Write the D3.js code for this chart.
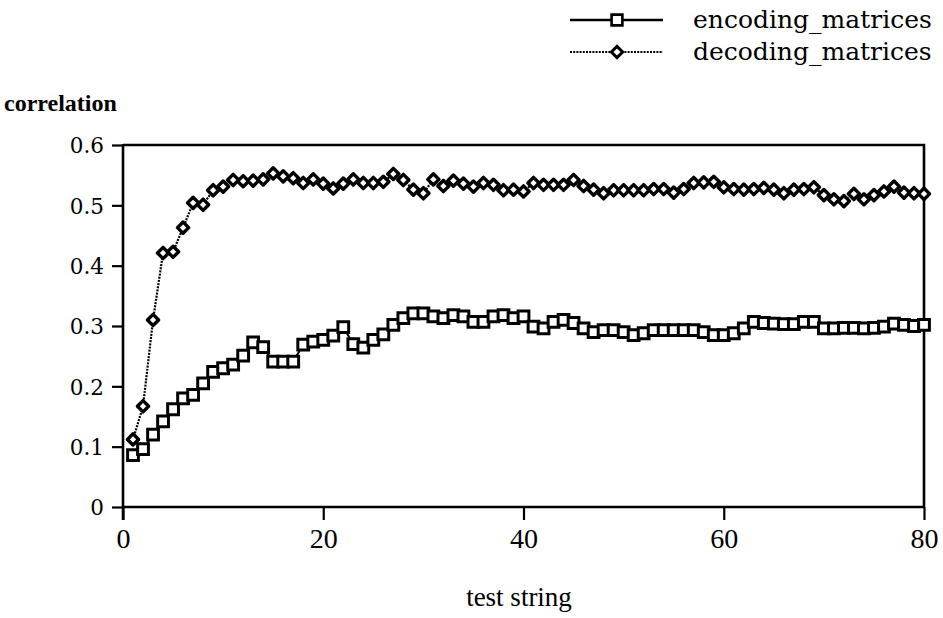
<!DOCTYPE html>
<html>
<head>
<meta charset="utf-8">
<script src="https://cdn.jsdelivr.net/npm/d3@7"></script>
<style>
  html, body { margin: 0; padding: 0; background: #fff; }
  svg { display: block; }
</style>
</head>
<body>
<svg id="chart" width="943" height="618"></svg>
<script>
// Test string index (1..80) and correlation per series
const testStrings = d3.range(1, 81);

const encodingMatrices = [
  0.086, 0.096, 0.120, 0.142, 0.162, 0.180, 0.186, 0.205, 0.224, 0.230,
  0.236, 0.251, 0.273, 0.265, 0.241, 0.241, 0.241, 0.269, 0.274, 0.277,
  0.284, 0.298, 0.270, 0.264, 0.277, 0.286, 0.302, 0.313, 0.321, 0.321,
  0.316, 0.313, 0.318, 0.316, 0.307, 0.307, 0.316, 0.318, 0.313, 0.316,
  0.299, 0.296, 0.307, 0.310, 0.305, 0.296, 0.290, 0.293, 0.293, 0.290,
  0.285, 0.288, 0.293, 0.293, 0.293, 0.293, 0.293, 0.290, 0.285, 0.285,
  0.288, 0.296, 0.307, 0.305, 0.304, 0.303, 0.303, 0.307, 0.307, 0.296,
  0.296, 0.297, 0.297, 0.296, 0.297, 0.299, 0.304, 0.302, 0.300, 0.302
];

const decodingMatrices = [
  0.112, 0.167, 0.310, 0.421, 0.423, 0.463, 0.504, 0.501, 0.525, 0.531,
  0.542, 0.540, 0.541, 0.543, 0.553, 0.548, 0.545, 0.537, 0.543, 0.536,
  0.528, 0.536, 0.543, 0.537, 0.537, 0.539, 0.552, 0.542, 0.526, 0.520,
  0.543, 0.532, 0.541, 0.536, 0.531, 0.537, 0.534, 0.525, 0.526, 0.523,
  0.537, 0.534, 0.534, 0.534, 0.542, 0.532, 0.526, 0.520, 0.525, 0.525,
  0.525, 0.525, 0.527, 0.527, 0.521, 0.527, 0.537, 0.538, 0.539, 0.530,
  0.527, 0.526, 0.527, 0.529, 0.526, 0.520, 0.526, 0.527, 0.530, 0.517,
  0.510, 0.507, 0.519, 0.510, 0.517, 0.523, 0.531, 0.521, 0.520, 0.519
];

const xTicks = [0, 20, 40, 60, 80];
const yTicks = [0, 0.1, 0.2, 0.3, 0.4, 0.5, 0.6];
const seriesNames = ["encoding_matrices", "decoding_matrices"];

const svg = d3.select("#chart");
const x = d3.scaleLinear().domain([0, 80]).range([123, 924]);
const y = d3.scaleLinear().domain([0, 0.6]).range([507, 145]);

const ink = "#000";
const serif = "'Liberation Serif', 'DejaVu Serif', serif";
const wideSerif = "'DejaVu Serif', 'Liberation Serif', serif";

// frame: top and right edges
svg.append("path")
  .attr("d", `M${x(0)},${y(0.6)}H${x(80)}V${y(0)}`)
  .attr("fill", "none").attr("stroke", ink).attr("stroke-width", 2.6);

// y axis
const yAxis = svg.append("g")
  .attr("transform", `translate(${x(0)},0)`)
  .call(d3.axisLeft(y).tickValues(yTicks).tickSize(11).tickPadding(8)
    .tickFormat(d => d === 0 ? "0" : d3.format(".1f")(d)));
yAxis.select(".domain").attr("stroke", ink).attr("stroke-width", 2.6)
  .attr("d", `M0,${y(0.6) - 1}V${y(0) + 13}`);
yAxis.selectAll(".tick line").attr("stroke", ink).attr("stroke-width", 2.2);
yAxis.selectAll(".tick text")
  .attr("font-family", wideSerif).attr("font-size", 21.5)
  .attr("fill", ink).attr("dy", "0.36em");

// x axis
const xAxis = svg.append("g")
  .attr("transform", `translate(0,${y(0)})`)
  .call(d3.axisBottom(x).tickValues(xTicks).tickSize(13).tickPadding(8));
xAxis.select(".domain").attr("stroke", ink).attr("stroke-width", 2.6)
  .attr("d", `M${x(0)},0H${x(80)}`);
xAxis.selectAll(".tick line").attr("stroke", ink).attr("stroke-width", 2.2);
xAxis.selectAll(".tick text")
  .attr("font-family", serif).attr("font-size", 28).attr("fill", ink);

// axis titles
svg.append("text").attr("x", 4).attr("y", 111)
  .attr("font-family", serif).attr("font-size", 24).attr("font-weight", "bold")
  .attr("fill", ink).text("correlation");
svg.append("text").attr("x", 519).attr("y", 606)
  .attr("text-anchor", "middle")
  .attr("font-family", serif).attr("font-size", 27).attr("fill", ink)
  .text("test string");

// marker shapes
const sqHalf = 5.4;
const dmHalf = 5.6;
const squarePath = `M${-sqHalf},${-sqHalf}H${sqHalf}V${sqHalf}H${-sqHalf}Z`;
const diamondPath = `M0,${-dmHalf}L${dmHalf},0L0,${dmHalf}L${-dmHalf},0Z`;

const encData = testStrings.map((t, i) => [t, encodingMatrices[i]]);
const decData = testStrings.map((t, i) => [t, decodingMatrices[i]]);
const line = d3.line().x(d => x(d[0])).y(d => y(d[1]));

// encoding series: solid line with squares
svg.append("path").attr("d", line(encData))
  .attr("fill", "none").attr("stroke", ink).attr("stroke-width", 2);
svg.append("g").selectAll("path").data(encData).join("path")
  .attr("transform", d => `translate(${x(d[0])},${y(d[1])})`)
  .attr("d", squarePath)
  .attr("fill", "#fff").attr("stroke", ink).attr("stroke-width", 3);

// decoding series: dotted line with diamonds
svg.append("path").attr("d", line(decData))
  .attr("fill", "none").attr("stroke", ink).attr("stroke-width", 2.2)
  .attr("stroke-dasharray", "2,1.2");
svg.append("g").selectAll("path").data(decData).join("path")
  .attr("transform", d => `translate(${x(d[0])},${y(d[1])})`)
  .attr("d", diamondPath)
  .attr("fill", "#fff").attr("stroke", ink).attr("stroke-width", 3.4)
  .attr("stroke-linejoin", "round");

// legend
const legend = svg.append("g");
const legendRows = [
  { name: seriesNames[0], y: 20, shape: squarePath, dash: null, lw: 2.4, sw: 2.6 },
  { name: seriesNames[1], y: 52, shape: diamondPath, dash: "2,1.2", lw: 1.8, sw: 3 }
];
legendRows.forEach(r => {
  legend.append("line")
    .attr("x1", 570).attr("x2", 663).attr("y1", r.y).attr("y2", r.y)
    .attr("stroke", ink).attr("stroke-width", r.lw)
    .attr("stroke-dasharray", r.dash);
  legend.append("path")
    .attr("transform", `translate(617,${r.y})`)
    .attr("d", r.shape)
    .attr("fill", "#fff").attr("stroke", ink).attr("stroke-width", r.sw);
  legend.append("text")
    .attr("x", 693).attr("y", r.y + 8)
    .attr("font-family", wideSerif).attr("font-size", 25).attr("fill", ink)
    .text(r.name);
});
</script>
</body>
</html>
